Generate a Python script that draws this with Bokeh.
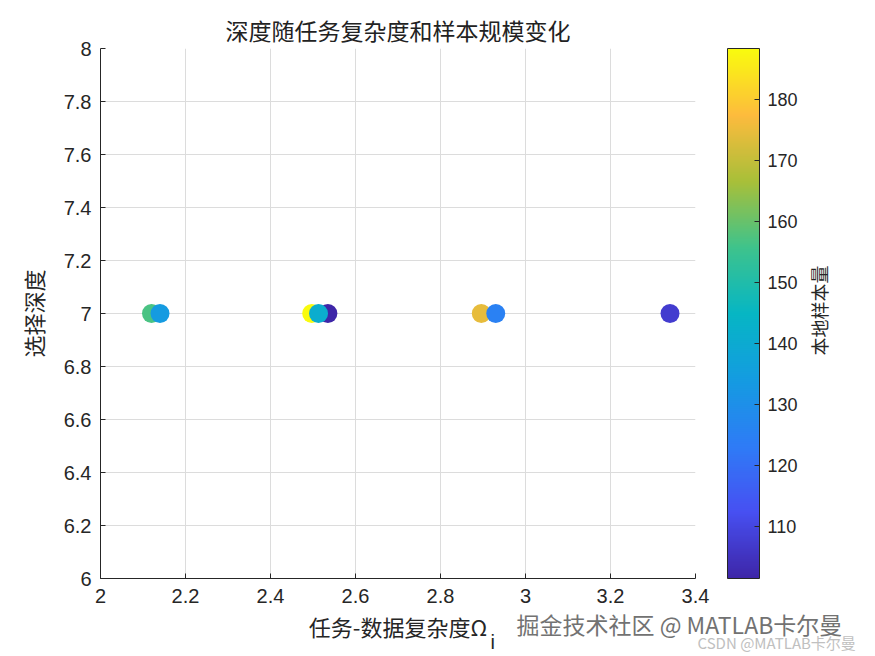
import numpy as np
from bokeh.plotting import figure
from bokeh.models import (ColumnDataSource, LinearColorMapper, ColorBar, FixedTicker,
                          Label, Range1d)
from bokeh.transform import transform
from bokeh.embed import file_html
from bokeh.resources import INLINE

# ---- data ----
complexity = [2.12, 2.14, 2.497, 2.535, 2.513, 2.896, 2.93, 3.34]
depth = [7, 7, 7, 7, 7, 7, 7, 7]
sample_size = [157, 134, 188.4, 101.5, 141.5, 174.5, 125, 107.5]
x_ticks = [2, 2.2, 2.4, 2.6, 2.8, 3, 3.2, 3.4]
y_ticks = [6, 6.2, 6.4, 6.6, 6.8, 7, 7.2, 7.4, 7.6, 7.8, 8]
cb_ticks = [110, 120, 130, 140, 150, 160, 170, 180]

# ---- parula-like palette (style) ----
anchors = [(0.00, (62, 38, 168)), (0.125, (71, 80, 242)), (0.25, (46, 124, 246)),
           (0.375, (20, 156, 225)), (0.5, (6, 182, 196)), (0.625, (62, 195, 140)),
           (0.75, (168, 191, 57)), (0.875, (253, 187, 61)), (1.0, (249, 251, 14))]
pos = [a[0] for a in anchors]
palette = []
for t in np.linspace(0, 1, 256):
    rgb = [int(round(np.interp(t, pos, [a[1][k] for a in anchors]))) for k in range(3)]
    palette.append("#%02x%02x%02x" % tuple(rgb))

tick_font = "Liberation Sans"
cjk_font = "Noto Sans CJK SC"

p = figure(width=875, height=656, frame_width=595, frame_height=530,
           output_backend="svg", toolbar_location=None,
           x_range=Range1d(2, 3.4), y_range=Range1d(6, 8),
           min_border_left=100, min_border_right=180, min_border_top=48,
           min_border_bottom=78)
p.title.text = "深度随任务复杂度和样本规模变化"
p.title.text_font = cjk_font
p.title.text_font_size = "23px"
p.title.text_font_style = "normal"
p.title.align = "center"
p.title.text_color = "#222222"
p.title.offset = 0
p.title.standoff = 4

mapper = LinearColorMapper(palette=palette, low=min(sample_size), high=max(sample_size))
src = ColumnDataSource(dict(x=complexity, y=depth, s=sample_size))
p.scatter("x", "y", source=src, size=19, fill_color=transform("s", mapper),
          line_color=None)

p.outline_line_color = None
for ax in (p.xaxis, p.yaxis):
    ax.major_label_text_font = tick_font
    ax.major_label_text_font_size = "20px"
    ax.major_label_text_color = "#262626"
    ax.axis_line_color = "#262626"
    ax.major_tick_line_color = "#262626"
    ax.major_tick_in = 5
    ax.major_tick_out = 0
    ax.minor_tick_line_color = None
    ax.axis_label_text_font = cjk_font
    ax.axis_label_text_font_size = "22px"
    ax.axis_label_text_font_style = "normal"
    ax.axis_label_text_color = "#262626"
p.xaxis.ticker = FixedTicker(ticks=x_ticks)
p.yaxis.ticker = FixedTicker(ticks=y_ticks)
p.xaxis.major_label_overrides = {t: ("%g" % t) for t in x_ticks}
p.yaxis.major_label_overrides = {t: ("%g" % t) for t in y_ticks}
p.xaxis.major_label_standoff = 10
p.yaxis.major_label_standoff = 9
p.xaxis.axis_label = "任务-数据复杂度Ω"
p.yaxis.axis_label = "选择深度"
p.xaxis.axis_label_standoff = 4
p.yaxis.axis_label_standoff = 12

p.xgrid.ticker = FixedTicker(ticks=x_ticks)
p.ygrid.ticker = FixedTicker(ticks=y_ticks)
p.grid.grid_line_color = "#dcdcdc"
p.grid.grid_line_width = 1

cb = ColorBar(color_mapper=mapper, ticker=FixedTicker(ticks=cb_ticks), width=32, height=530,
              padding=0, margin=0, background_fill_color=None, border_line_color=None,
              bar_line_color="#262626", major_tick_line_color="#262626",
              major_tick_in=5, major_tick_out=0, minor_tick_line_color=None,
              major_label_text_font=tick_font, major_label_text_font_size="18px",
              major_label_text_color="#262626", label_standoff=8, location=(32, 0))
p.add_layout(cb, "right")


def page_label(px, py, text, side, **kw):
    # canvas units: page pixels from the top-left; side panels are not clipped
    p.add_layout(Label(x=px, y=py, x_units="canvas", y_units="canvas", text=text, **kw),
                 side)


page_label(818, 310, "本地样本量", "right", angle=np.pi / 2, text_font=cjk_font,
           text_font_size="18px", text_color="#262626", text_align="center",
           text_baseline="middle")
page_label(490, 641, "i", "left", text_font=tick_font, text_font_size="20px",
           text_color="#262626", text_align="left", text_baseline="middle")
page_label(516, 623, "掘金技术社区 @ MATLAB卡尔曼", "below", text_font=cjk_font,
           text_font_size="23px", text_color="#727272", text_align="left",
           text_baseline="middle")
page_label(697, 642, "CSDN @MATLAB卡尔曼", "below", text_font=cjk_font,
           text_font_size="15px", text_color="#c0c0c0", text_align="left",
           text_baseline="middle")

open("out.html", "w").write(file_html(p, INLINE))
